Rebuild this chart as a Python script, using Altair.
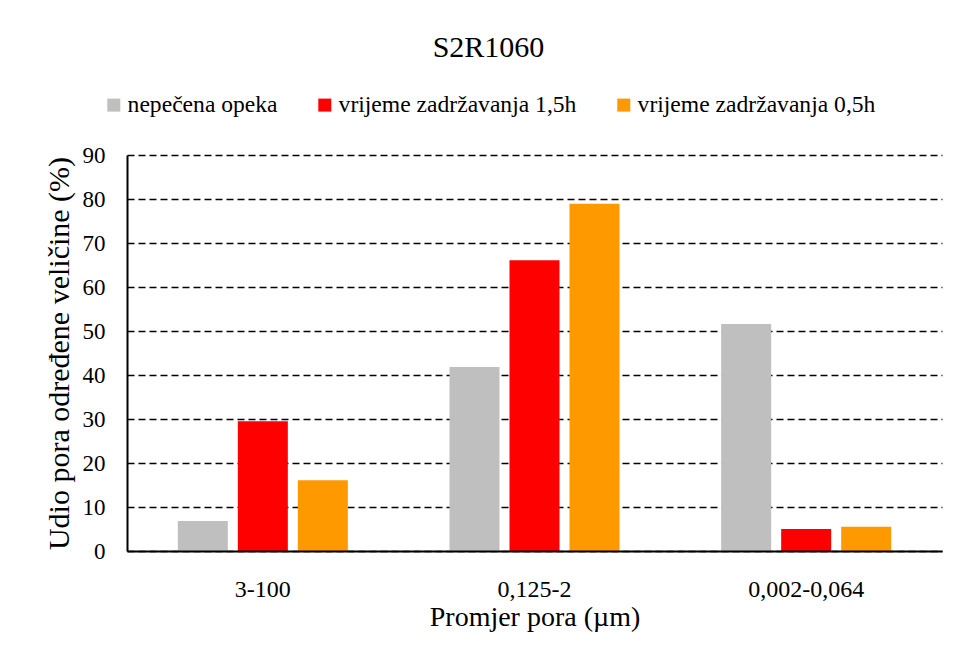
import altair as alt
import pandas as pd

categories = ["3-100", "0,125-2", "0,002-0,064"]
series = ["nepečena opeka", "vrijeme zadržavanja 1,5h", "vrijeme zadržavanja 0,5h"]
colors = ["#BFBFBF", "#FF0000", "#FF9900"]
nepecena = [6.8, 41.8, 51.6]
vz15 = [29.5, 66.1, 5.0]
vz05 = [16.1, 78.9, 5.5]
y_ticks = list(range(0, 91, 10))

rows = []
for s, vals in zip(series, [nepecena, vz15, vz05]):
    for c, v in zip(categories, vals):
        rows.append({"cat": c, "series": s, "value": v})
df = pd.DataFrame(rows)

FONT = "'Liberation Serif', 'Times New Roman', serif"

chart = alt.Chart(df).mark_bar().encode(
    x=alt.X(
        "cat:N", sort=categories,
        scale=alt.Scale(paddingInner=0, paddingOuter=0),
        axis=alt.Axis(
            title="Promjer pora (µm)", labelAngle=0, labelFontSize=24,
            labelFont=FONT, labelColor="black", titleFont=FONT, titleFontSize=28,
            titleFontWeight="normal", titleColor="black", ticks=False, tickSize=0,
            labelPadding=26, titlePadding=2, domainColor="black", domainWidth=2,
            grid=False, zindex=1,
        ),
    ),
    xOffset=alt.XOffset(
        "series:N", sort=series,
        scale=alt.Scale(paddingInner=1 / 6, paddingOuter=0.847),
    ),
    y=alt.Y(
        "value:Q",
        scale=alt.Scale(domain=[0, 90], nice=False),
        axis=alt.Axis(
            title="Udio pora određene veličine (%)", values=y_ticks,
            labelFontSize=23, labelFont=FONT, labelColor="black",
            titleFont=FONT, titleFontSize=30, titleFontWeight="normal",
            titleColor="black", ticks=False, tickSize=0, labelPadding=22,
            titlePadding=8, domainColor="black", domainWidth=2,
            grid=True, gridColor="black", gridWidth=1.5, gridDash=[7, 4],
        ),
    ),
    color=alt.Color(
        "series:N", sort=series,
        scale=alt.Scale(domain=series, range=colors),
        legend=alt.Legend(
            title=None, orient="none", legendX=-25, legendY=-62,
            direction="horizontal", symbolType="square", symbolSize=169,
            symbolStrokeWidth=0, labelFont=FONT, labelFontSize=23.6,
            labelColor="black", labelOffset=2, columnPadding=35, padding=0,
            labelLimit=500,
        ),
    ),
).properties(
    width=815,
    height=396,
    title=alt.TitleParams(
        "S2R1060", font=FONT, fontSize=30, fontWeight="normal", color="black",
        anchor="middle", dx=-46, offset=30,
    ),
    autosize=alt.AutoSizeParams(type="none"),
    padding={"left": 119, "top": 147, "right": 9, "bottom": 100},
).configure_view(stroke=None)

chart.save("out.html", embed_options={"renderer": "svg", "actions": False})
